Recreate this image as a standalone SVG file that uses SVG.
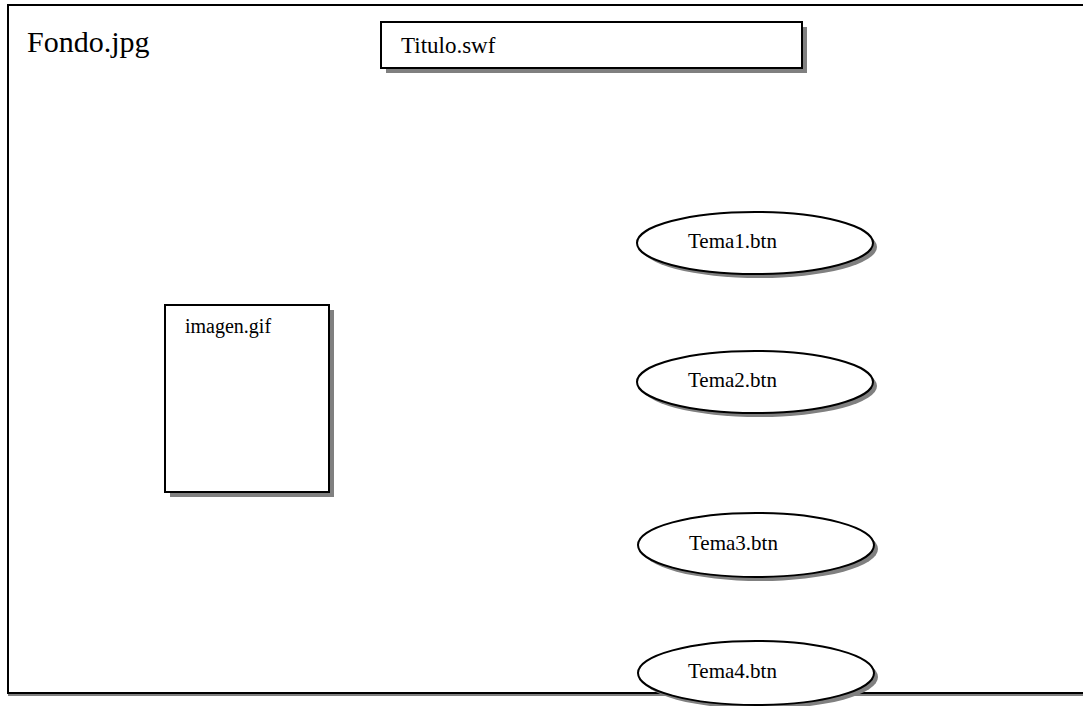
<svg xmlns="http://www.w3.org/2000/svg" width="1083" height="706" viewBox="0 0 1083 706">
  <style>
    .lbl { font-family: "Liberation Serif", "Times New Roman", serif; fill: #000; }
    .shape { fill: #fff; stroke: #000; stroke-width: 2; }
    .shadow { fill: #808080; stroke: none; }
  </style>
  <rect x="0" y="0" width="1083" height="706" fill="#fff"/>

  <!-- page frame (open on the right) -->
  <g id="frame">
    <line x1="8" y1="695" x2="1083" y2="695" stroke="#808080" stroke-width="2"/>
    <polyline points="1083,5 8,5 8,693 1083,693" fill="none" stroke="#000" stroke-width="2"/>
    <text class="lbl" x="27" y="52" font-size="30">Fondo.jpg</text>
  </g>

  <g id="titulo">
    <rect class="shadow" x="386" y="27" width="421" height="46"/>
    <rect class="shape" x="381" y="22" width="421" height="46"/>
    <text class="lbl" x="401" y="53" font-size="23">Titulo.swf</text>
  </g>

  <g id="imagen">
    <rect class="shadow" x="170" y="310" width="164" height="187"/>
    <rect class="shape" x="165" y="305" width="164" height="187"/>
    <text class="lbl" x="185" y="333" font-size="20">imagen.gif</text>
  </g>

  <g id="tema1">
    <ellipse class="shadow" cx="759" cy="247" rx="118" ry="31"/>
    <ellipse class="shape" cx="755" cy="243" rx="118" ry="31"/>
    <text class="lbl" x="688" y="248" font-size="21">Tema1.btn</text>
  </g>

  <g id="tema2">
    <ellipse class="shadow" cx="759" cy="386" rx="118" ry="31"/>
    <ellipse class="shape" cx="755" cy="382" rx="118" ry="31"/>
    <text class="lbl" x="688" y="387" font-size="21">Tema2.btn</text>
  </g>

  <g id="tema3">
    <ellipse class="shadow" cx="760" cy="549" rx="118" ry="32"/>
    <ellipse class="shape" cx="756" cy="545" rx="118" ry="32"/>
    <text class="lbl" x="689" y="550" font-size="21">Tema3.btn</text>
  </g>

  <g id="tema4">
    <ellipse class="shadow" cx="760" cy="677" rx="118" ry="32"/>
    <ellipse class="shape" cx="756" cy="673" rx="118" ry="32"/>
    <text class="lbl" x="688" y="678" font-size="21">Tema4.btn</text>
  </g>

  <!-- no connectors in this layout -->
  <g id="connectors"/>
</svg>
